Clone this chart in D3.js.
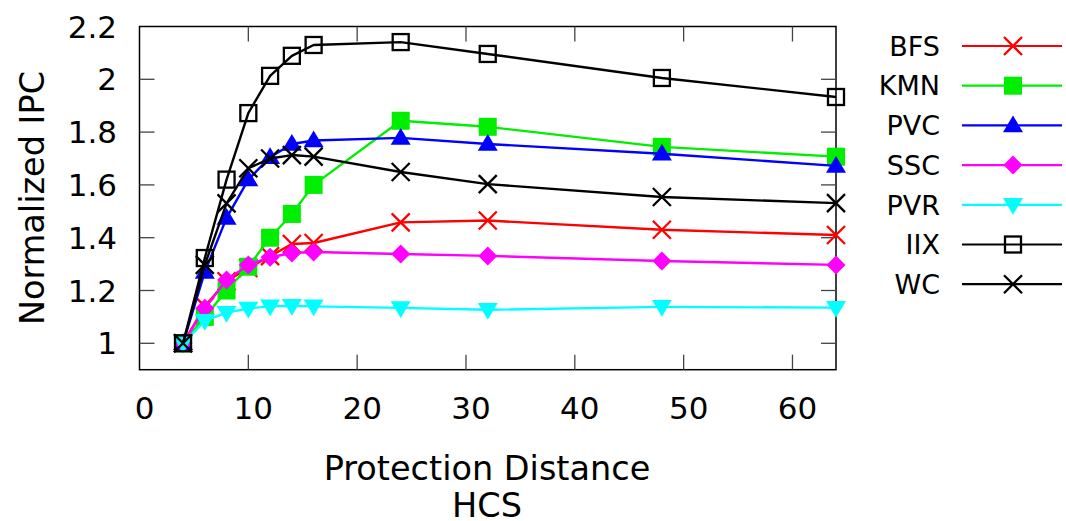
<!DOCTYPE html>
<html><head><meta charset="utf-8">
<script src="https://cdn.jsdelivr.net/npm/d3@7"></script>
<style>body{margin:0;background:#fff;} svg{display:block;font-family:"DejaVu Sans",sans-serif;}</style>
</head><body><svg id="c" width="1066" height="521"></svg>
<script>
const xValues = [4, 6, 8, 10, 12, 14, 16, 24, 32, 48, 64];
const seriesNames = ["BFS", "KMN", "PVC", "SSC", "PVR", "IIX", "WC"];
const BFS = [1.0, 1.14, 1.235, 1.285, 1.33, 1.376, 1.38, 1.458, 1.465, 1.43, 1.41];
const KMN = [1.0, 1.10, 1.20, 1.29, 1.40, 1.49, 1.60, 1.843, 1.82, 1.744, 1.707];
const PVC = [1.0, 1.27, 1.475, 1.62, 1.705, 1.755, 1.768, 1.778, 1.755, 1.718, 1.672];
const SSC = [1.0, 1.133, 1.24, 1.297, 1.326, 1.342, 1.346, 1.338, 1.331, 1.312, 1.297];
const PVR = [1.0, 1.085, 1.116, 1.132, 1.14, 1.142, 1.14, 1.134, 1.127, 1.138, 1.135];
const IIX = [1.0, 1.323, 1.62, 1.872, 2.013, 2.089, 2.13, 2.141, 2.096, 2.005, 1.933];
const WC  = [1.0, 1.297, 1.53, 1.663, 1.70, 1.713, 1.707, 1.649, 1.603, 1.554, 1.531];
const xTicks = [0, 10, 20, 30, 40, 50, 60];
const yTicks = [1, 1.2, 1.4, 1.6, 1.8, 2, 2.2];
const xTitle = ["Protection Distance", "HCS"];
const yTitle = "Normalized IPC";

const seriesData = [BFS, KMN, PVC, SSC, PVR, IIX, WC];
const colors = ["#ff0000", "#00ee00", "#0000ff", "#ff00ff", "#00ffff", "#000000", "#000000"];
const markers = ["x", "fsquare", "tri", "diamond", "itri", "osquare", "x"];

const svg = d3.select("#c");
const L = 139.5, R = 836, T = 26.5, B = 369.7;
const x = d3.scaleLinear().domain([0, 64]).range([L, R]);
const y = d3.scaleLinear().domain([0.9, 2.2]).range([B, T]);

svg.append("rect").attr("x", L).attr("y", T).attr("width", R - L).attr("height", B - T)
  .attr("fill", "none").attr("stroke", "#000").attr("stroke-width", 1.5);

const tickLen = 15;
const gx = svg.append("g");
xTicks.forEach(t => {
  if (t > 0) {
    gx.append("line").attr("x1", x(t)).attr("x2", x(t)).attr("y1", B).attr("y2", B - tickLen).attr("stroke", "#444").attr("stroke-width", 1.3);
    gx.append("line").attr("x1", x(t)).attr("x2", x(t)).attr("y1", T).attr("y2", T + tickLen).attr("stroke", "#444").attr("stroke-width", 1.3);
  }
  gx.append("text").attr("x", x(t) + 5).attr("y", 419).attr("text-anchor", "middle")
    .attr("font-size", 31).text(t);
});
const gy = svg.append("g");
yTicks.forEach(t => {
  if (t < 2.2) {
    gy.append("line").attr("x1", L).attr("x2", L + tickLen).attr("y1", y(t)).attr("y2", y(t)).attr("stroke", "#444").attr("stroke-width", 1.3);
    gy.append("line").attr("x1", R).attr("x2", R - tickLen).attr("y1", y(t)).attr("y2", y(t)).attr("stroke", "#444").attr("stroke-width", 1.3);
  }
  gy.append("text").attr("x", 117).attr("y", y(t)).attr("dy", "0.36em").attr("text-anchor", "end")
    .attr("font-size", 31).text(String(t));
});

svg.append("text").attr("transform", `translate(44,198) rotate(-90)`).attr("text-anchor", "middle")
  .attr("font-size", 33.5).text(yTitle);
svg.append("text").attr("x", 487).attr("y", 480).attr("text-anchor", "middle").attr("font-size", 33.5).text(xTitle[0]);
svg.append("text").attr("x", 487).attr("y", 517).attr("text-anchor", "middle").attr("font-size", 33.5).text(xTitle[1]);

function drawMarker(g, type, cx, cy, color) {
  const s = 9;
  if (type === "x") {
    g.append("path").attr("d", `M${cx - s},${cy - s}L${cx + s},${cy + s}M${cx - s},${cy + s}L${cx + s},${cy - s}`)
      .attr("stroke", color).attr("stroke-width", 2.3).attr("fill", "none");
  } else if (type === "fsquare") {
    g.append("rect").attr("x", cx - s).attr("y", cy - s).attr("width", 2 * s).attr("height", 2 * s).attr("fill", color);
  } else if (type === "osquare") {
    g.append("rect").attr("x", cx - s + 1).attr("y", cy - s + 1).attr("width", 2 * s - 2).attr("height", 2 * s - 2)
      .attr("fill", "none").attr("stroke", color).attr("stroke-width", 2.3);
  } else if (type === "tri") {
    g.append("path").attr("d", `M${cx},${cy - s - 1}L${cx + s + 1},${cy + s * 0.75}L${cx - s - 1},${cy + s * 0.75}Z`).attr("fill", color);
  } else if (type === "itri") {
    g.append("path").attr("d", `M${cx},${cy + s + 1}L${cx + s + 1},${cy - s * 0.75}L${cx - s - 1},${cy - s * 0.75}Z`).attr("fill", color);
  } else if (type === "diamond") {
    g.append("path").attr("d", `M${cx},${cy - s - 0.5}L${cx + s + 0.5},${cy}L${cx},${cy + s + 0.5}L${cx - s - 0.5},${cy}Z`).attr("fill", color);
  }
}

const line = d3.line().x((d, i) => x(xValues[i])).y(d => y(d)).curve(d3.curveLinear);
const plot = svg.append("g");
seriesData.forEach((vals, si) => {
  const g = plot.append("g");
  g.append("path").attr("d", line(vals)).attr("fill", "none").attr("stroke", colors[si]).attr("stroke-width", 2.4)
    .attr("stroke-linejoin", "round");
  vals.forEach((v, i) => drawMarker(g, markers[si], x(xValues[i]), y(v), colors[si]));
});

const leg = svg.append("g");
seriesNames.forEach((n, i) => {
  const ly = 46 + i * 39.7;
  leg.append("text").attr("x", 940).attr("y", ly).attr("dy", "0.36em").attr("text-anchor", "end").attr("font-size", 27).text(n);
  leg.append("line").attr("x1", 962).attr("x2", 1062).attr("y1", ly).attr("y2", ly).attr("stroke", colors[i]).attr("stroke-width", 2.2);
  drawMarker(leg, markers[i], 1013, ly, colors[i]);
});
</script></body></html>
